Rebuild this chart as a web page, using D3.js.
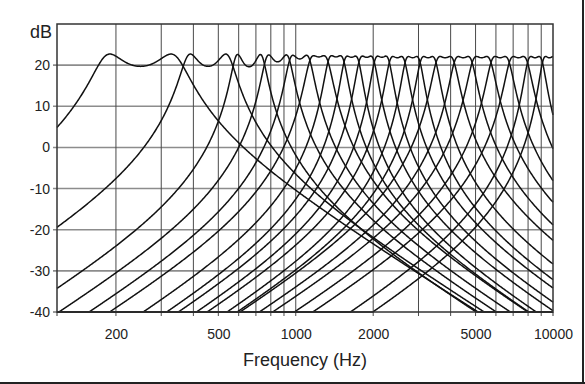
<!DOCTYPE html>
<html>
<head>
<meta charset="utf-8">
<script src="https://cdn.jsdelivr.net/npm/d3@7"></script>
<style>
  body { margin: 0; background: #fff; }
  svg text { font-family: "Liberation Sans", Arial, sans-serif; fill: #222; }
</style>
</head>
<body>
<svg id="chart" width="585" height="384"></svg>
<script>
// filter bank channels, band edges in Hz
const bandLo = [170, 365, 570, 760, 950, 1152, 1357, 1564, 1788, 2052,
                2348, 2702, 3095, 3576, 4207, 4945, 5849, 6889, 8084, 9231];
const bandHi = [365, 570, 760, 950, 1130, 1310, 1515, 1733, 1988, 2275,
                2617, 2998, 3453, 4053, 4761, 5630, 6634, 7812, 8961, 10154];
// passband ripple (dB) per channel
const rippleDb = [3, 3, 3, 1.7, 0.9, 0.3, 0.3, 0.3, 0.3, 0.3,
                  0.3, 0.3, 0.3, 0.3, 0.3, 0.3, 0.3, 0.3, 0.3, 0.3];
// peak level (dB) per channel
const peakDb = [22.7, 22.7, 22.6, 22.5, 22.4, 22.3, 22.3, 22.2, 22.2, 22.2,
                22.1, 22.1, 22.1, 22.1, 22.1, 22.1, 22.1, 22.1, 22.1, 22.1];

const gridFreqs = [200, 300, 400, 500, 600, 700, 800, 900,
                   1000, 2000, 3000, 4000, 5000, 6000, 7000, 8000, 9000];
const freqLabels = [200, 500, 1000, 2000, 5000, 10000];
const dbTicks = [20, 10, 0, -10, -20, -30, -40];
const dbGrid = [20, 10, 0, -10, -20, -30];

const svg = d3.select("#chart");
const pLeft = 57, pRight = 553, pTop = 24, pBottom = 312;

const x = d3.scaleLog().domain([118, 10000]).range([pLeft, pRight]);
const y = d3.scaleLinear().domain([-40, 30]).range([pBottom, pTop]);

// grid
svg.append("g").selectAll("line").data(dbGrid).join("line")
    .attr("x1", pLeft - 4).attr("x2", pRight)
    .attr("y1", d => y(d)).attr("y2", d => y(d))
    .attr("stroke", "#8c8c8c").attr("stroke-width", 1.6);

svg.append("g").selectAll("line").data(gridFreqs).join("line")
    .attr("x1", d => x(d)).attr("x2", d => x(d))
    .attr("y1", pTop).attr("y2", pBottom + 4)
    .attr("stroke", "#4a4a4a").attr("stroke-width", 1);

// ticks at the plot edges
svg.append("line").attr("x1", pLeft).attr("x2", pLeft)
    .attr("y1", pBottom).attr("y2", pBottom + 4).attr("stroke", "#333");
svg.append("line").attr("x1", pRight).attr("x2", pRight)
    .attr("y1", pBottom).attr("y2", pBottom + 4).attr("stroke", "#333");
svg.append("line").attr("x1", pLeft - 4).attr("x2", pLeft)
    .attr("y1", pBottom).attr("y2", pBottom).attr("stroke", "#333");

// chebyshev (2nd order prototype) band-pass magnitude in dB
function respDb(f, lo, hi, r, peak) {
    const bw = hi - lo;
    const om = (f * f - lo * hi) / (f * bw);
    const t = 2 * om * om - 1;
    const e2 = Math.pow(10, r / 10) - 1;
    return peak - 10 * Math.log10(1 + e2 * t * t);
}

const freqs = d3.range(0, 801).map(i => 118 * Math.pow(10000 / 118, i / 800));
const line = d3.line()
    .x(d => x(d[0]))
    .y(d => y(Math.max(-40, d[1])));

const curves = bandLo.map((lo, i) =>
    freqs.map(f => [f, respDb(f, lo, bandHi[i], rippleDb[i], peakDb[i])]));

svg.append("g").selectAll("path").data(curves).join("path")
    .attr("d", line)
    .attr("fill", "none")
    .attr("stroke", "#111")
    .attr("stroke-width", 1.5);

// plot frame
svg.append("rect")
    .attr("x", pLeft).attr("y", pTop)
    .attr("width", pRight - pLeft).attr("height", pBottom - pTop)
    .attr("fill", "none").attr("stroke", "#333").attr("stroke-width", 1.5);

// axis labels
const xAxis = d3.axisBottom(x).tickValues(freqLabels).tickSize(0).tickPadding(17)
    .tickFormat(d => String(d));
svg.append("g").attr("transform", `translate(0,${pBottom})`).call(xAxis)
    .call(g => g.select(".domain").remove())
    .selectAll("text").attr("font-size", 14).attr("font-family", null).attr("fill", "#222");

const yAxis = d3.axisLeft(y).tickValues(dbTicks).tickSize(0).tickPadding(7)
    .tickFormat(d => String(d));
svg.append("g").attr("transform", `translate(${pLeft},0)`).call(yAxis)
    .call(g => g.select(".domain").remove())
    .selectAll("text").attr("font-size", 14).attr("font-family", null).attr("fill", "#222");

svg.append("text").attr("x", 30).attr("y", 38)
    .attr("font-size", 18).text("dB");

svg.append("text").attr("x", (pLeft + pRight) / 2).attr("y", 366)
    .attr("text-anchor", "middle").attr("font-size", 18).text("Frequency (Hz)");

// outer frame (right and bottom edges of the figure)
svg.append("line").attr("x1", 583).attr("x2", 583).attr("y1", 0).attr("y2", 384)
    .attr("stroke", "#222").attr("stroke-width", 2);
svg.append("line").attr("x1", 0).attr("x2", 585).attr("y1", 383).attr("y2", 383)
    .attr("stroke", "#222").attr("stroke-width", 2);
</script>
</body>
</html>
